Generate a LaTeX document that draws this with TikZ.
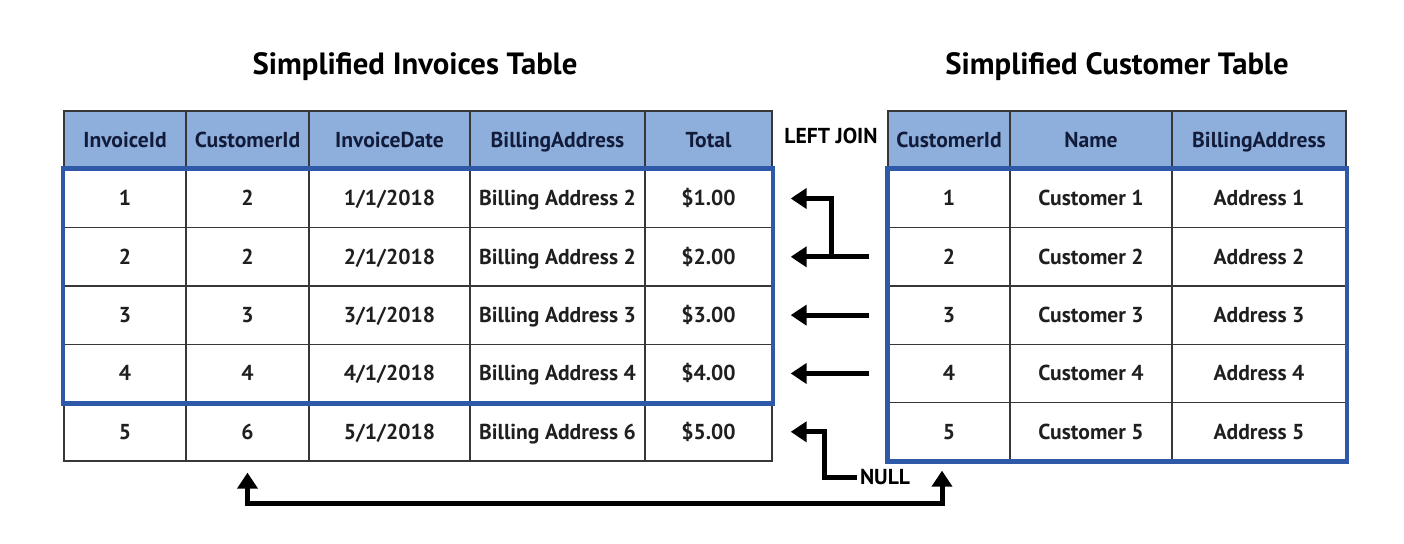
\documentclass[tikz,border=0pt]{standalone}
\usepackage{fontspec}
\setmainfont{PT Sans}
\usepackage{xcolor}
\usetikzlibrary{arrows.meta, positioning, calc}

\definecolor{hdrblue}{RGB}{142,175,220}
\definecolor{selblue}{RGB}{46,88,168}
\definecolor{hdrtext}{RGB}{18,28,58}
\definecolor{gridgray}{RGB}{55,55,55}

\tikzset{
  jtip/.tip={Triangle[length=0.32cm,width=0.4cm]},
  cell/.style={draw=gridgray, line width=0.8pt, inner sep=0pt, minimum height=1.1666cm,
    text height=2.1ex, text depth=0.4ex,
    font=\bfseries\fontsize{12.3}{14}\selectfont, text=black!88},
  hdrcell/.style={cell, fill=hdrblue, text=hdrtext},
  selbox/.style={draw=selblue, line width=2.5pt},
  joinarrow/.style={line width=0.1cm, -jtip},
  ttl/.style={font=\bfseries\fontsize{17.5}{20}\selectfont},
}

\begin{document}
\begin{tikzpicture}[x=0.02cm, y=-0.02cm]
  \useasboundingbox (0,0) rectangle (1404,544);
  % invoices table
  \foreach \row [count=\r from 0] in {{InvoiceId,CustomerId,InvoiceDate,BillingAddress,Total},
      {1,2,1/1/2018,Billing Address 2,\$1.00},{2,2,2/1/2018,Billing Address 2,\$2.00},
      {3,3,3/1/2018,Billing Address 3,\$3.00},{4,4,4/1/2018,Billing Address 4,\$4.00},
      {5,6,5/1/2018,Billing Address 6,\$5.00}}{
    \foreach \txt [count=\c] in \row {
      \pgfmathsetmacro\cx{{125,247.5,389.5,557.5,708.5}[\c-1]}
      \pgfmathsetmacro\cellw{0.02*{122,123,161,175,127}[\c-1]}
      \ifnum\r=0 \def\sty{hdrcell}\else\def\sty{cell}\fi
      \node[\sty, minimum width=\cellw cm] (inv-\r-\c) at (\cx,140.17+58.33*\r) {\txt};
    }
  }
  % customer table
  \foreach \row [count=\r from 0] in {{CustomerId,Name,BillingAddress},
      {1,Customer 1,Address 1},{2,Customer 2,Address 2},{3,Customer 3,Address 3},
      {4,Customer 4,Address 4},{5,Customer 5,Address 5}}{
    \foreach \txt [count=\c] in \row {
      \pgfmathsetmacro\cx{{949,1091,1259}[\c-1]}
      \pgfmathsetmacro\cellw{0.02*{122,162,174}[\c-1]}
      \ifnum\r=0 \def\sty{hdrcell}\else\def\sty{cell}\fi
      \node[\sty, minimum width=\cellw cm] (cus-\r-\c) at (\cx,140.17+58.33*\r) {\txt};
    }
  }
  \draw[selbox] (inv-1-1.north west) rectangle (inv-4-5.south east);
  \draw[selbox] (cus-1-1.north west) rectangle (cus-5-3.south east);

  \node[ttl] (invtitle) at (415,67) {Simplified Invoices Table};
  \node[ttl] (custitle) at (1117,67) {Simplified Customer Table};
  \node[font=\bfseries\fontsize{12.3}{14}\selectfont] (join) at (831,136) {LEFT JOIN};
  \node[font=\bfseries\fontsize{12.3}{14}\selectfont, inner sep=1.5pt] (nul) at (885,477) {NULL};

  % join arrows
  \draw[joinarrow] ([xshift=-1.12cm]cus-2-1.west) |- ([xshift=0.36cm]inv-1-5.east);
  \draw[joinarrow] ([xshift=-0.36cm]cus-2-1.west) -- ([xshift=0.36cm]inv-2-5.east);
  \draw[joinarrow] ([xshift=-0.36cm]cus-3-1.west) -- ([xshift=0.36cm]inv-3-5.east);
  \draw[joinarrow] ([xshift=-0.36cm]cus-4-1.west) -- ([xshift=0.36cm]inv-4-5.east);
  \draw[joinarrow] (nul.west) -- ++(-33,0) |- ([xshift=0.36cm]inv-5-5.east);
  \draw[joinarrow, jtip-jtip] ([yshift=-0.22cm]inv-5-2.south) -- ++(0,31)
    -| ([xshift=-0.14cm, yshift=-0.18cm]cus-5-1.south);
\end{tikzpicture}
\end{document}
